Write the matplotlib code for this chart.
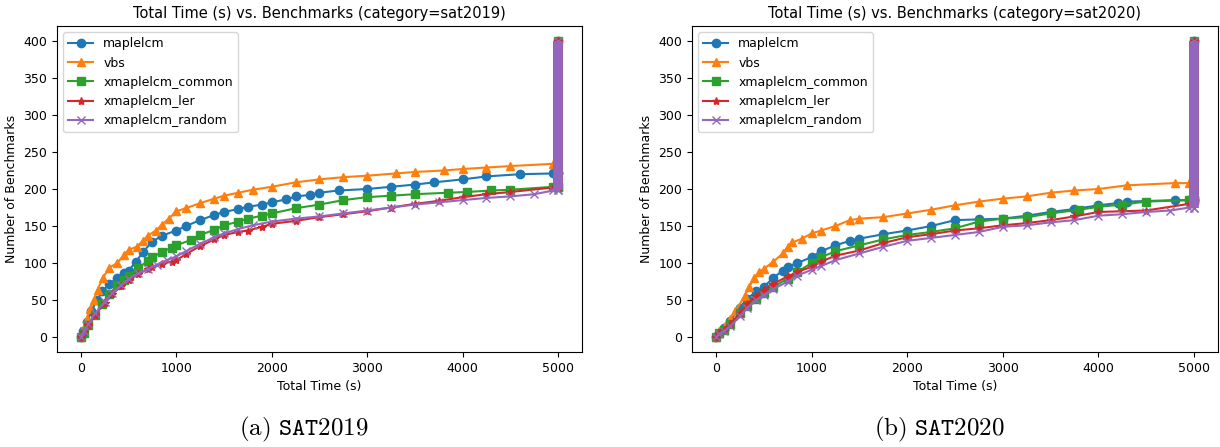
import matplotlib
matplotlib.use("Agg")
import matplotlib.pyplot as plt

plt.rcParams['mathtext.fontset'] = 'cm'

solvers = ["maplelcm", "vbs", "xmaplelcm_common", "xmaplelcm_ler", "xmaplelcm_random"]
markers = ["o", "^", "s", "*", "x"]
timeout = 5000
total = 400

# sat2019: (time, solved count)
t19_maple = [0, 20, 60, 110, 170, 225, 300, 380, 450, 500, 580, 650, 750, 850, 1000, 1100, 1250, 1400, 1500, 1650, 1750, 1900, 2000, 2150, 2250, 2400, 2500, 2700, 3000, 3250, 3500, 3700, 4000, 4250, 4600, 4950]
n19_maple = [0, 8, 20, 35, 50, 62, 72, 80, 86, 90, 102, 115, 129, 137, 144, 150, 158, 165, 169, 173, 176, 179, 182, 186, 190, 192, 195, 198, 200, 203, 206, 209, 213, 217, 220, 221]
t19_vbs = [0, 20, 60, 100, 135, 175, 230, 300, 380, 450, 500, 584, 650, 700, 788, 850, 920, 1000, 1100, 1250, 1400, 1500, 1650, 1800, 2000, 2250, 2500, 2750, 3000, 3300, 3500, 3800, 4000, 4250, 4500, 4950]
n19_vbs = [0, 10, 25, 38, 50, 64, 80, 94, 100, 111, 118, 122, 130, 137, 144, 152, 160, 170, 174, 181, 187, 191, 195, 199, 203, 209, 213, 216, 218, 221, 223, 225, 227, 229, 231, 234]
t19_common = [0, 30, 80, 150, 220, 300, 380, 450, 500, 600, 700, 750, 850, 950, 1000, 1150, 1250, 1400, 1500, 1650, 1750, 1900, 2000, 2250, 2500, 2750, 3000, 3250, 3500, 3850, 4050, 4300, 4500, 4950]
n19_common = [0, 6, 16, 30, 45, 58, 70, 77, 82, 93, 103, 108, 115, 121, 124, 131, 138, 145, 151, 156, 160, 164, 167, 174, 179, 185, 189, 191, 193, 195, 196, 198, 199, 203]
t19_ler = [0, 30, 80, 150, 250, 330, 420, 500, 600, 700, 750, 850, 950, 1000, 1100, 1250, 1400, 1500, 1650, 1750, 1900, 2000, 2250, 2500, 2750, 3000, 3250, 3500, 3750, 4000, 4250, 4500, 4950]
n19_ler = [0, 7, 17, 30, 46, 58, 69, 77, 85, 92, 95, 99, 102, 104, 112, 123, 132, 138, 142, 144, 149, 153, 157, 162, 166, 170, 175, 180, 184, 189, 193, 196, 202]
t19_random = [0, 30, 80, 150, 250, 330, 420, 500, 600, 700, 800, 900, 1000, 1100, 1250, 1400, 1500, 1650, 1800, 2000, 2250, 2500, 2750, 3000, 3250, 3500, 3750, 4000, 4250, 4500, 4750, 4950]
n19_random = [0, 8, 18, 32, 48, 60, 70, 79, 86, 92, 98, 104, 109, 116, 126, 135, 140, 146, 151, 156, 160, 163, 167, 171, 175, 179, 182, 185, 188, 190, 193, 198]

# sat2020
t20_maple = [0, 30, 80, 150, 250, 330, 420, 500, 600, 700, 750, 850, 1000, 1100, 1250, 1400, 1500, 1750, 2000, 2250, 2500, 2750, 3000, 3250, 3500, 3750, 4000, 4200, 4300, 4800, 4950]
n20_maple = [0, 5, 12, 22, 40, 52, 62, 68, 80, 90, 95, 100, 108, 116, 124, 130, 133, 139, 144, 150, 158, 159, 160, 164, 169, 173, 178, 181, 183, 185, 185]
t20_vbs = [0, 30, 100, 150, 200, 300, 350, 400, 450, 500, 600, 700, 750, 800, 900, 1000, 1100, 1250, 1400, 1500, 1750, 2000, 2250, 2500, 2750, 3000, 3250, 3500, 3750, 4000, 4300, 4800, 4950]
n20_vbs = [0, 8, 15, 25, 35, 55, 68, 80, 88, 92, 102, 113, 122, 128, 133, 140, 144, 150, 158, 160, 162, 167, 172, 178, 183, 187, 190, 195, 198, 200, 205, 208, 208]
t20_common = [0, 30, 80, 150, 250, 330, 420, 500, 600, 750, 850, 1000, 1100, 1250, 1500, 1750, 2000, 2250, 2500, 2750, 3000, 3250, 3500, 3800, 4000, 4250, 4500, 4950]
n20_common = [0, 5, 10, 18, 32, 42, 52, 59, 68, 79, 88, 100, 108, 116, 124, 132, 138, 142, 147, 156, 160, 162, 167, 172, 176, 179, 183, 185]
t20_ler = [0, 30, 80, 150, 250, 330, 420, 500, 600, 750, 850, 1000, 1100, 1250, 1500, 1750, 2000, 2250, 2500, 2750, 3000, 3250, 3500, 3750, 4000, 4250, 4500, 4950]
n20_ler = [0, 5, 10, 18, 32, 45, 56, 64, 72, 82, 88, 95, 102, 110, 117, 127, 135, 139, 144, 147, 151, 154, 158, 163, 169, 170, 171, 180]
t20_random = [0, 30, 80, 150, 250, 330, 420, 500, 600, 750, 850, 1000, 1100, 1250, 1500, 1750, 2000, 2250, 2500, 2750, 3000, 3250, 3500, 3750, 4000, 4250, 4500, 4750, 4950]
n20_random = [0, 4, 8, 15, 28, 40, 50, 57, 65, 75, 83, 91, 96, 104, 113, 122, 130, 134, 138, 142, 149, 151, 155, 158, 164, 166, 169, 171, 175]

data = {
    "sat2019": [(t19_maple, n19_maple), (t19_vbs, n19_vbs), (t19_common, n19_common),
                (t19_ler, n19_ler), (t19_random, n19_random)],
    "sat2020": [(t20_maple, n20_maple), (t20_vbs, n20_vbs), (t20_common, n20_common),
                (t20_ler, n20_ler), (t20_random, n20_random)],
}
captions = [r"$\mathrm{(a)}\ \mathtt{SAT2019}$", r"$\mathrm{(b)}\ \mathtt{SAT2020}$"]

fig = plt.figure(figsize=(12.2, 4.47), dpi=100)
axes = [fig.add_axes([0.0467, 0.2125, 0.4303, 0.7293]),
        fig.add_axes([0.5672, 0.2125, 0.4311, 0.7293])]

for ax, (cat, series), cap in zip(axes, data.items(), captions):
    for name, mk, (t, n) in zip(solvers, markers, series):
        line, = ax.plot(t + [timeout], n + [n[-1]], marker=mk, markersize=6, label=name)
        # unsolved instances pile up at the timeout
        ax.plot([timeout, timeout], [n[-1], total], color=line.get_color(), lw=7,
                marker=mk, markersize=6, solid_capstyle="butt")
    ax.set_title(f"Total Time (s) vs. Benchmarks (category={cat})", fontsize=10.5)
    ax.set_xlabel("Total Time (s)", fontsize=9)
    ax.set_ylabel("Number of Benchmarks", fontsize=9)
    ax.tick_params(labelsize=9)
    ax.set_yticks(range(0, 401, 50))
    ax.legend(loc="upper left", fontsize=9)
    pos = ax.get_position()
    fig.text(pos.x0 + pos.width * 0.47, 0.025, cap, fontsize=18, ha="center")

fig.savefig("out.png", dpi=100)
